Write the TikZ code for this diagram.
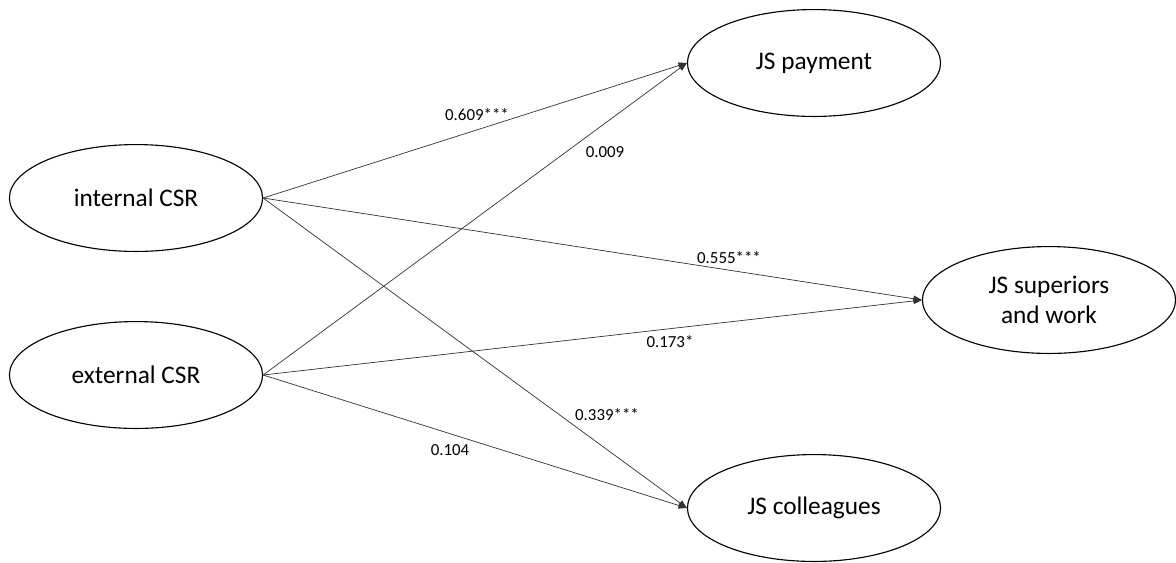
\documentclass[tikz,border=0pt]{standalone}
\usepackage{fontspec}
\setmainfont{Carlito}
\usetikzlibrary{shapes.geometric,arrows.meta}

\begin{document}
\begin{tikzpicture}[x=0.025cm, y=-0.025cm,
  latent/.style={draw, ellipse, line width=0.8pt, minimum width=180pt, minimum height=76pt,
    inner sep=0pt, align=center, font=\fontsize{18}{21}\selectfont},
  path/.style={-{Triangle[length=6pt,width=4.5pt]}, line width=0.5pt, draw=black!80},
  coef/.style={font=\fontsize{12}{14}\selectfont}]
  \useasboundingbox (0,0) rectangle (1176,562);
  % constructs
  \node[latent] (int) at (136, 198) {internal CSR};
  \node[latent] (ext) at (136, 375) {external CSR};
  \node[latent] (pay) at (814, 63) {JS payment};
  \node[latent] (sup) at (1049, 300) {JS superiors\\and work};
  \node[latent] (col) at (814, 508) {JS colleagues};
  % paths
  \draw[path] (int.east) -- (pay.west);
  \draw[path] (int.east) -- (sup.west);
  \draw[path] (int.east) -- (col.west);
  \draw[path] (ext.east) -- (pay.west);
  \draw[path] (ext.east) -- (sup.west);
  \draw[path] (ext.east) -- (col.west);
  % coefficients
  \node[coef] (c1) at (477, 115) {0.609***};
  \node[coef] (c2) at (605, 152) {0.009};
  \node[coef] (c3) at (729, 258) {0.555***};
  \node[coef] (c4) at (670, 342) {0.173*};
  \node[coef] (c5) at (607, 415) {0.339***};
  \node[coef] (c6) at (450, 450) {0.104};
\end{tikzpicture}
\end{document}
